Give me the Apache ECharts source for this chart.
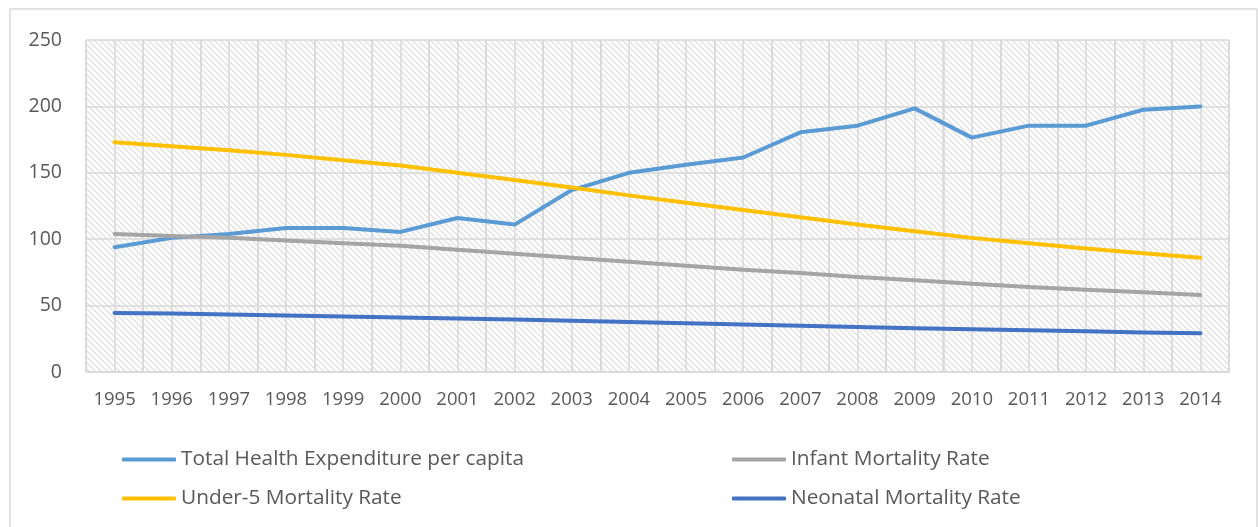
<!DOCTYPE html>
<html>
<head>
<meta charset="utf-8">
<script src="https://cdn.jsdelivr.net/npm/echarts@6/dist/echarts.min.js"></script>
<style>
  html, body { margin: 0; padding: 0; background: #ffffff; }
  #chart { width: 1258px; height: 527px; }
</style>
</head>
<body>
<div id="chart"></div>
<script>
// Years on the category axis
const years = ['1995','1996','1997','1998','1999','2000','2001','2002','2003','2004',
               '2005','2006','2007','2008','2009','2010','2011','2012','2013','2014'];

// Series values
const totalHealthExpenditure = [94, 101, 104, 108.5, 108.5, 105.5, 116, 111, 137, 150,
                                156, 161.5, 180.5, 185.5, 198.5, 176.5, 185.5, 185.5, 197.5, 200];
const under5Mortality = [173, 170, 167, 163.5, 159.5, 155.5, 150, 144.5, 139, 133,
                         127.5, 122, 116.5, 111, 106, 101, 97, 93, 89.5, 86];
const infantMortality = [104, 102.5, 101, 99, 97, 95, 92, 89, 86, 83,
                         80, 77, 74.5, 71.5, 69, 66.5, 64, 62, 60, 58];
const neonatalMortality = [44.5, 44, 43.3, 42.6, 41.8, 41, 40.2, 39.5, 38.6, 37.7,
                           36.8, 35.8, 34.8, 33.9, 33, 32.2, 31.4, 30.6, 29.8, 29.2];

// Value axis ticks
const yTicks = { min: 0, max: 250, interval: 50 };

const FONT = '"Open Sans"';
const TEXT = '#595959';
const GRID = '#d9d9d9';

// Diagonal hatch used as the plot background
function hatchPattern() {
  const c = document.createElement('canvas');
  const s = 6;
  c.width = s; c.height = s;
  const g = c.getContext('2d');
  g.fillStyle = '#ffffff';
  g.fillRect(0, 0, s, s);
  g.strokeStyle = '#e0e0e0';
  g.lineWidth = 1.3;
  g.beginPath();
  g.moveTo(-1, -1); g.lineTo(s + 1, s + 1);
  g.moveTo(-1, s - 1); g.lineTo(1, s + 1);
  g.moveTo(s - 1, -1); g.lineTo(s + 1, 1);
  g.stroke();
  return { image: c, repeat: 'repeat' };
}

// Half-step slots so vertical gridlines fall on both centres and edges of each year
const halfSlots = [];
years.forEach(y => { halfSlots.push(y + 'a'); halfSlots.push(y + 'b'); });

function lineSeries(name, data, color) {
  return {
    name, type: 'line', data,
    xAxisIndex: 0,
    symbol: 'none', smooth: false,
    lineStyle: { color, width: 4, cap: 'round', join: 'round' },
    itemStyle: { color },
    emphasis: { disabled: true }
  };
}

const legendText = { color: TEXT, fontFamily: FONT, fontSize: 20.8, lineHeight: 20 };

const chart = echarts.init(document.getElementById('chart'), null, { renderer: 'canvas' });
chart.setOption({
  animation: false,
  backgroundColor: '#ffffff',
  textStyle: { fontFamily: FONT },
  graphic: [{
    type: 'rect', silent: true, z: -10,
    shape: { x: 10, y: 9, width: 1247, height: 540 },
    style: { fill: 'none', stroke: GRID, lineWidth: 1.5 }
  }],
  grid: {
    left: 86, right: 29, top: 40, bottom: 155,
    show: true, borderWidth: 0,
    backgroundColor: hatchPattern()
  },
  xAxis: [{
    type: 'category', data: years, boundaryGap: true,
    axisLine: { show: true, lineStyle: { color: GRID, width: 1.5 } },
    axisTick: { show: false },
    axisLabel: { color: TEXT, fontFamily: FONT, fontSize: 18.5, margin: 18, interval: 0 },
    splitLine: { show: true, interval: 0, lineStyle: { color: GRID, width: 1.5 } }
  }, {
    type: 'category', data: halfSlots, boundaryGap: true, position: 'bottom',
    axisLine: { show: false }, axisTick: { show: false }, axisLabel: { show: false },
    splitLine: { show: true, interval: 0, lineStyle: { color: GRID, width: 1.5 } }
  }],
  yAxis: {
    type: 'value', min: yTicks.min, max: yTicks.max, interval: yTicks.interval,
    axisLine: { show: false }, axisTick: { show: false },
    axisLabel: { color: TEXT, fontFamily: FONT, fontSize: 19.5, margin: 24 },
    splitLine: { show: true, lineStyle: { color: GRID, width: 1.5 } }
  },
  legend: [{
    orient: 'vertical', left: 122, top: 449, padding: 0,
    itemWidth: 54, itemHeight: 4, itemGap: 18, icon: 'roundRect',
    textStyle: legendText,
    data: ['Total Health Expenditure per capita', 'Under-5 Mortality Rate']
  }, {
    orient: 'vertical', left: 732, top: 449, padding: 0,
    itemWidth: 54, itemHeight: 4, itemGap: 18, icon: 'roundRect',
    textStyle: legendText,
    data: ['Infant Mortality Rate', 'Neonatal Mortality Rate']
  }],
  series: [
    lineSeries('Total Health Expenditure per capita', totalHealthExpenditure, '#5B9BD5'),
    lineSeries('Infant Mortality Rate', infantMortality, '#A5A5A5'),
    lineSeries('Under-5 Mortality Rate', under5Mortality, '#FFC000'),
    lineSeries('Neonatal Mortality Rate', neonatalMortality, '#4472C4')
  ]
});
</script>
</body>
</html>
